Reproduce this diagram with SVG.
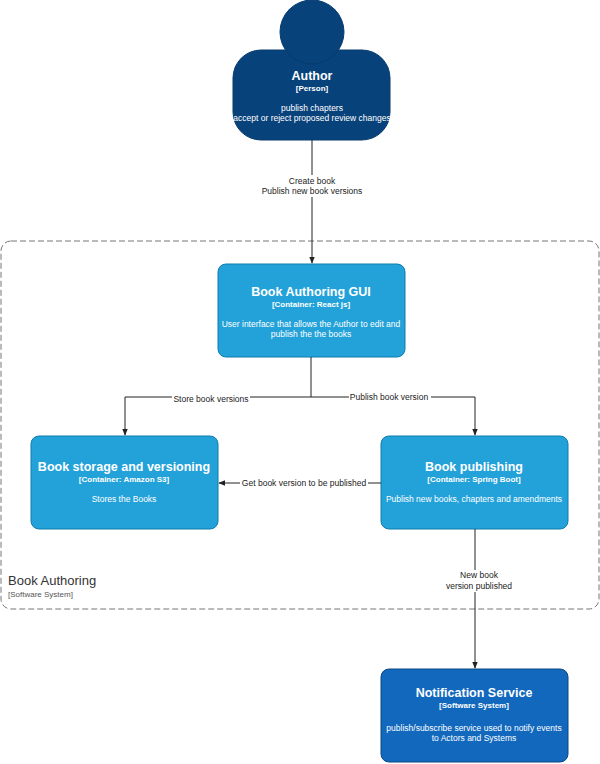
<svg xmlns="http://www.w3.org/2000/svg" width="600" height="764" viewBox="0 0 600 764">
<style>
text{font-family:"Liberation Sans",Arial,sans-serif;text-anchor:middle}
.t{fill:#fff;font-weight:bold;font-size:12.5px}
.s{fill:#fff;font-size:8px;font-weight:bold}
.d{fill:#fff;font-size:8.5px}
.l{fill:#222;font-size:8.5px}
.c{fill:#23A2D9;stroke:#0E7DAD;stroke-width:1}
.e{fill:none;stroke:#222;stroke-width:1}
.lb{fill:#fff}
</style>
<defs><marker id="a" viewBox="0 0 10 10" refX="9" refY="5" markerWidth="7" markerHeight="7" orient="auto"><path d="M0,1 L10,5 L0,9 Z" fill="#222"/></marker></defs>
<rect x="1" y="241" width="598" height="368" rx="10" fill="none" stroke="#777" stroke-dasharray="6,3"/>
<text x="8" y="585" style="text-anchor:start;font-size:13px" fill="#333">Book Authoring</text>
<text x="8" y="597" style="text-anchor:start;font-size:8px" fill="#555">[Software System]</text>
<g id="author">
<rect x="233" y="50" width="157" height="90" rx="28" fill="#08427B" stroke="#073B6F"/>
<circle cx="312" cy="32" r="32" fill="#08427B" stroke="#073B6F"/>
<text class="t" x="312" y="80">Author</text>
<text class="s" x="312" y="91">[Person]</text>
<text class="d" x="312" y="111">publish chapters</text>
<text class="d" x="312" y="121">accept or reject proposed review changes</text>
</g>
<g id="gui"><rect class="c" x="218" y="264" width="187" height="93" rx="8"/>
<text class="t" x="311" y="296">Book Authoring GUI</text>
<text class="s" x="311" y="307">[Container: React js]</text>
<text class="d" x="311" y="327">User interface that allows the Author to edit and</text>
<text class="d" x="311" y="337">publish the the books</text></g>
<g id="storage"><rect class="c" x="31" y="436" width="187" height="93" rx="8"/>
<text class="t" x="124" y="471">Book storage and versioning</text>
<text class="s" x="124" y="482">[Container: Amazon S3]</text>
<text class="d" x="124" y="502">Stores the Books</text></g>
<g id="publishing"><rect class="c" x="381" y="436" width="187" height="93" rx="8"/>
<text class="t" x="474" y="471">Book publishing</text>
<text class="s" x="474" y="482">[Container: Spring Boot]</text>
<text class="d" x="474" y="502">Publish new books, chapters and amendments</text></g>
<g id="notification"><rect x="381" y="669" width="187" height="93" rx="8" fill="#1168BD" stroke="#0B4884"/>
<text class="t" x="474" y="697">Notification Service</text>
<text class="s" x="474" y="708">[Software System]</text>
<text class="d" x="474" y="731">publish/subscribe service used to notify events</text>
<text class="d" x="474" y="741">to Actors and Systems</text></g>
<g id="connectors">
<path class="e" d="M312,140 V263" marker-end="url(#a)"/>
<rect class="lb" x="258" y="175" width="112" height="22"/>
<text class="l" x="312" y="184">Create book</text>
<text class="l" x="312" y="194">Publish new book versions</text>
<path class="e" d="M311,357 V397 H125 V435" marker-end="url(#a)"/>
<rect class="lb" x="172" y="393" width="78" height="10"/>
<text class="l" x="211" y="402">Store book versions</text>
<path class="e" d="M311,397 H475 V435" marker-end="url(#a)"/>
<rect class="lb" x="349" y="392" width="82" height="10"/>
<text class="l" x="389" y="400">Publish book version</text>
<path class="e" d="M381,483 H219" marker-end="url(#a)"/>
<rect class="lb" x="240" y="478" width="128" height="10"/>
<text class="l" x="304" y="486">Get book version to be published</text>
<path class="e" d="M475,529 V668" marker-end="url(#a)"/>
<rect class="lb" x="444" y="570" width="66" height="22"/>
<text class="l" x="479" y="578">New book</text>
<text class="l" x="479" y="589">version published</text>
</g>
</svg>
